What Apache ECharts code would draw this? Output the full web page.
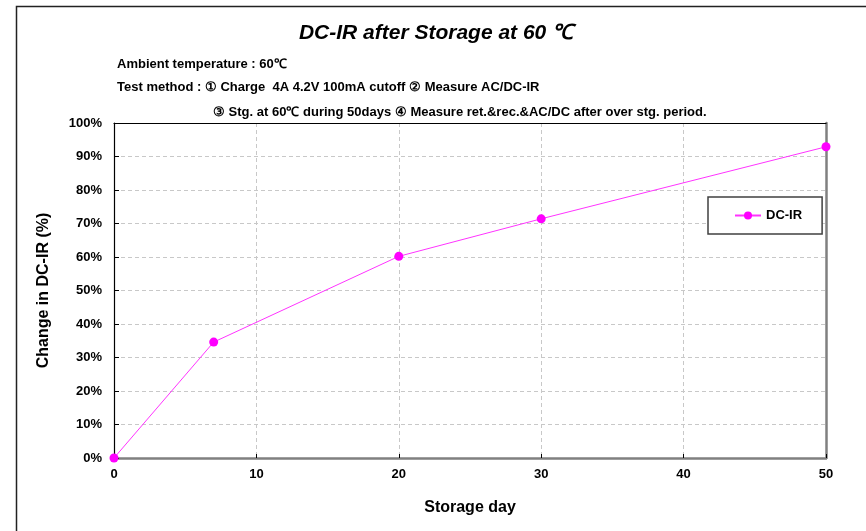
<!DOCTYPE html>
<html>
<head>
<meta charset="utf-8">
<script src="https://cdn.jsdelivr.net/npm/echarts@6/dist/echarts.min.js"></script>
<style>
html,body{margin:0;padding:0;background:#fff;}
#chart{width:866px;height:531px;}
</style>
</head>
<body>
<div id="chart"></div>
<script>
const days = [0, 7, 20, 30, 50];
const dcir = [0, 34.6, 60.2, 71.4, 92.9];
const yTicks = [0, 10, 20, 30, 40, 50, 60, 70, 80, 90, 100];
const xTicks = [0, 10, 20, 30, 40, 50];
const seriesName = 'DC-IR';
const titleText = 'DC-IR after Storage at 60 ℃';
const noteLines = [
  'Ambient temperature : 60℃',
  'Test method : ① Charge  4A 4.2V 100mA cutoff ② Measure AC/DC-IR',
  '③ Stg. at 60℃ during 50days ④ Measure ret.&rec.&AC/DC after over stg. period.'
];

const FONT = '"Liberation Sans", Arial, sans-serif';
const chart = echarts.init(document.getElementById('chart'), null, {renderer: 'canvas'});
const points = days.map((d, i) => [d, dcir[i]]);

chart.setOption({
  backgroundColor: '#ffffff',
  animation: false,
  title: {
    text: titleText,
    left: 431, top: 18, textAlign: 'center',
    textStyle: {fontFamily: FONT, fontSize: 21, fontWeight: 'bold', fontStyle: 'italic', color: '#000'}
  },
  graphic: [
    {type: 'rect', left: 14, top: 4, shape: {width: 900, height: 600}, style: {fill: 'none', stroke: '#222', lineWidth: 1.5}, silent: true, z: 0},
    {type: 'text', left: 117, top: 58, style: {text: noteLines[0], font: 'bold 13px ' + FONT, fill: '#000'}},
    {type: 'text', left: 117, top: 81, style: {text: noteLines[1], font: 'bold 13px ' + FONT, fill: '#000'}},
    {type: 'text', left: 213, top: 106, style: {text: noteLines[2], font: 'bold 13px ' + FONT, fill: '#000'}}
  ],
  legend: {
    data: [seriesName],
    left: 708, top: 197,
    width: 80,
    padding: [12, 20, 12, 26],
    itemWidth: 26, itemHeight: 10,
    itemGap: 4,
    borderColor: '#404040', borderWidth: 1.5,
    backgroundColor: '#fff',
    textStyle: {fontFamily: FONT, fontSize: 13, fontWeight: 'bold', color: '#000'}
  },
  grid: {left: 114, top: 123, right: 40, bottom: 73, containLabel: false},
  xAxis: [{
    type: 'value', position: 'bottom', min: 0, max: 50, interval: 10,
    name: 'Storage day', nameLocation: 'middle', nameGap: 42,
    nameTextStyle: {fontFamily: FONT, fontSize: 16, fontWeight: 'bold', color: '#000'},
    axisLine: {show: true, onZero: false, lineStyle: {color: '#808080', width: 2.5}},
    axisTick: {show: true, inside: true, length: 4, lineStyle: {color: '#000'}},
    axisLabel: {fontFamily: FONT, fontSize: 13, fontWeight: 'bold', color: '#000', margin: 10,
      formatter: v => xTicks.includes(v) ? String(v) : ''},
    splitLine: {show: true, lineStyle: {color: '#c8c8c8', type: [4, 3], width: 1}}
  }, {
    type: 'value', position: 'top', min: 0, max: 50, interval: 10,
    axisLine: {show: true, onZero: false, lineStyle: {color: '#000', width: 1.2}},
    axisTick: {show: false}, axisLabel: {show: false}, splitLine: {show: false}
  }],
  yAxis: [{
    type: 'value', position: 'left', min: 0, max: 100, interval: 10,
    name: 'Change in DC-IR (%)', nameLocation: 'middle', nameGap: 62, nameRotate: 90,
    nameTextStyle: {fontFamily: FONT, fontSize: 16, fontWeight: 'bold', color: '#000'},
    axisLine: {show: true, onZero: false, lineStyle: {color: '#000', width: 1.2}},
    axisTick: {show: true, inside: true, length: 5, lineStyle: {color: '#000'}},
    axisLabel: {fontFamily: FONT, fontSize: 13, fontWeight: 'bold', color: '#000', margin: 12,
      formatter: v => yTicks.includes(v) ? v + '%' : ''},
    splitLine: {show: true, lineStyle: {color: '#c8c8c8', type: [4, 3], width: 1}}
  }, {
    type: 'value', position: 'right', min: 0, max: 100, interval: 10,
    axisLine: {show: true, onZero: false, lineStyle: {color: '#808080', width: 2.5}},
    axisTick: {show: false}, axisLabel: {show: false}, splitLine: {show: false}
  }],
  series: [{
    name: seriesName,
    type: 'line',
    xAxisIndex: 0, yAxisIndex: 0,
    data: points,
    symbol: 'circle', symbolSize: 9,
    lineStyle: {color: '#ff33ff', width: 1},
    itemStyle: {color: '#ff00ff'},
    z: 5
  }]
});
</script>
</body>
</html>
